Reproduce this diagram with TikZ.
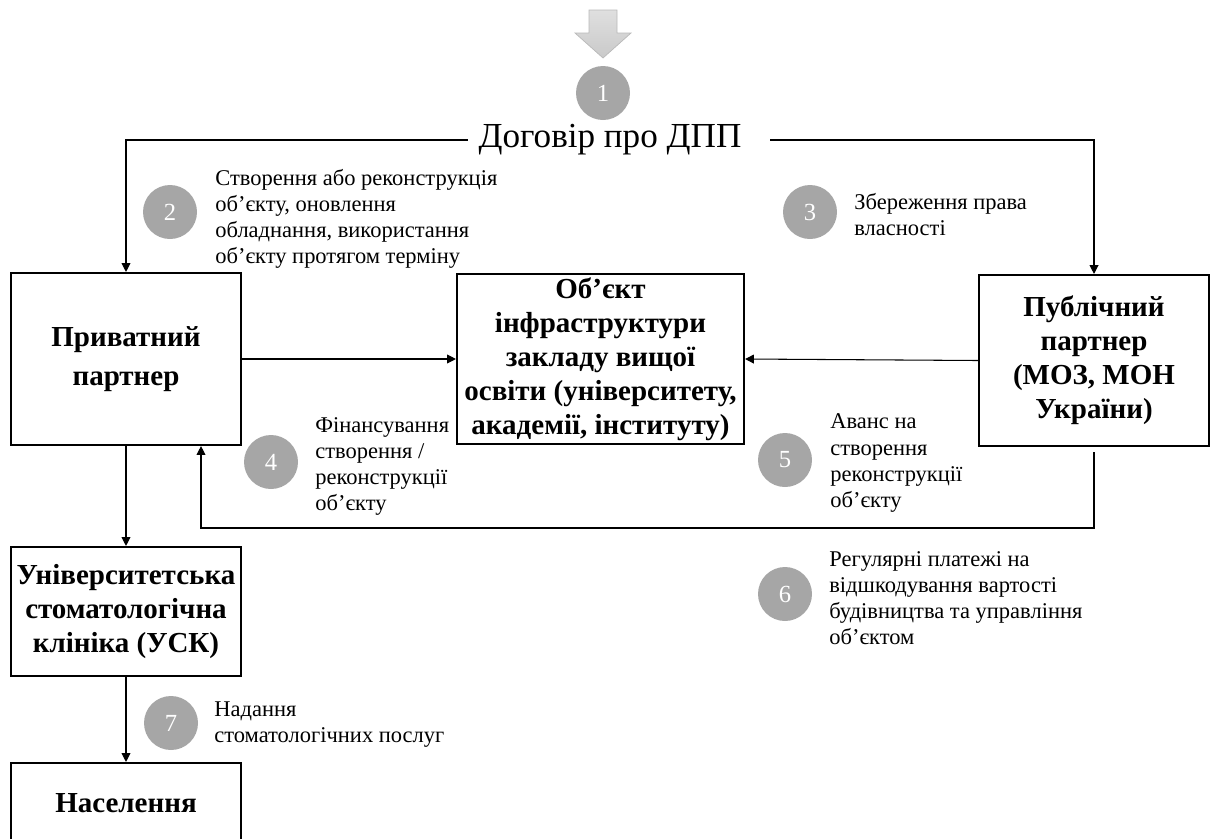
\documentclass[tikz,border=0pt]{standalone}
\usepackage{fontspec}
\setmainfont{Liberation Serif}
\usepackage{tikz}
\usetikzlibrary{arrows.meta}
\definecolor{numgray}{RGB}{166,166,166}
\tikzset{
block/.style={ % boxes of the partners
draw,
line width=1.2pt,
align=center,
inner sep=0pt,
font=\fontsize{16.5}{19.3}\selectfont\bfseries},
num/.style={ % grey numbered circles
circle,
fill=numgray,
text=white,
minimum size=10.8mm,
inner sep=0pt,
font=\fontsize{14}{14}\selectfont},
note/.style={ % small comments next to the circles
anchor=west,
align=left,
inner sep=0pt,
font=\fontsize{12.8}{14.8}\selectfont},
link/.style={ % connectors
draw,
line width=0.6pt,
-{Triangle[length=5pt,width=5pt]}}}

\begin{document}
\begin{tikzpicture}[x=0.2mm, y=-0.2mm]
\useasboundingbox (0,0) rectangle (1210,838);
\shadedraw[top color=gray!25, bottom color=gray!42, draw=gray!55]
  (589,10) -- (617,10) -- (617,33) -- (631,33) -- (603,58) -- (575,33) -- (589,33) -- cycle;
\node[num] (n1) at (603,93) {1};
\node[font=\fontsize{20}{24}\selectfont, inner sep=6pt] (dog) at (610,140) {Договір про ДПП};

\node[block, minimum width=46mm, minimum height=34.4mm] (priv) at (126,359) {Приватний\\[3pt]партнер};
\node[block, minimum width=57.4mm, minimum height=34mm] (obj) at (600.5,359)
  {Об’єкт\\інфраструктури\\закладу вищої\\освіти (університету,\\академії, інституту)};
\node[block, minimum width=46mm, minimum height=34.2mm] (pub) at (1094,360.5)
  {Публічний\\партнер\\(МОЗ, МОН\\України)};
\node[block, minimum width=46mm, minimum height=25.8mm] (usk) at (126,611.5)
  {Університетська\\стоматологічна\\клініка (УСК)};
\node[block, minimum width=46mm, minimum height=16mm] (pop) at (126,803) {Населення};

\coordinate (ret) at (201,528);
\draw[link] (dog.west) -| (priv.north);
\draw[link] ([xshift=3.6mm]dog.east) -| (pub.north);
\draw[link] (priv.east) -- (obj.west);
\draw[link] (pub.west) -- (obj.east);
\draw[link] ([yshift=-1mm]pub.south) |- (ret) -- (ret |- priv.south);
\draw[link] (priv.south) -- (usk.north);
\draw[link] (usk.south) -- (pop.north);

\node[num] (n2) at (170,212) {2};
\node[note] (t2) at (215,219) {Створення або реконструкція\\об’єкту, оновлення\\обладнання, використання\\об’єкту протягом терміну};
\node[num] (n3) at (810,212) {3};
\node[note] (t3) at (854,215) {Збереження права\\власності};
\node[num] (n4) at (271,462) {4};
\node[note] (t4) at (315,466) {Фінансування\\створення /\\реконструкції\\об’єкту};
\node[num] (n5) at (785,460) {5};
\node[note] (t5) at (830,463) {Аванс на\\створення\\реконструкції\\об’єкту};
\node[num] (n6) at (785,594) {6};
\node[note] (t6) at (829,598) {Регулярні платежі на\\відшкодування вартості\\будівництва та управління\\об’єктом};
\node[num] (n7) at (171,723) {7};
\node[note] (t7) at (214,725) {Надання\\стоматологічних послуг};
\end{tikzpicture}
\end{document}
